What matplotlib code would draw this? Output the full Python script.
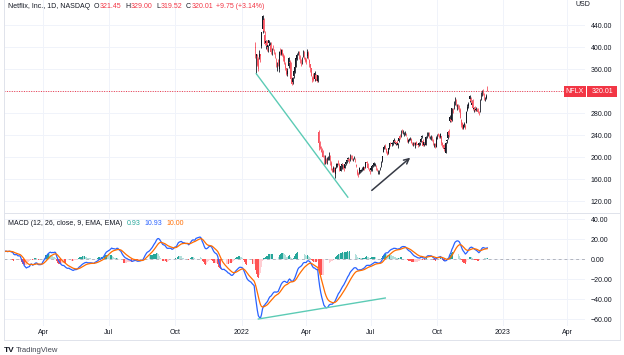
import numpy as np
import pandas as pd
import matplotlib
matplotlib.use('Agg')
import matplotlib.pyplot as plt
from matplotlib.lines import Line2D
from matplotlib.patches import Rectangle

plt.rcParams['font.family'] = ['Liberation Sans', 'DejaVu Sans']

# NYSE holidays, used to build the trading-day axis
holidays = ['2020-12-25', '2021-01-01', '2021-01-18', '2021-02-15', '2021-04-02',
            '2021-05-31', '2021-07-05', '2021-09-06', '2021-11-25', '2021-12-24',
            '2022-01-17', '2022-02-21', '2022-04-15', '2022-05-30', '2022-06-20',
            '2022-07-04', '2022-09-05', '2022-11-24', '2022-12-26',
            '2023-01-02', '2023-01-16', '2023-02-20', '2023-04-07', '2023-05-29']

# daily closes Dec 2020 .. Jan 20 2022 (off the top of the price pane, feed the MACD)
close_2020_12 = [504, 509, 505, 498, 494, 511, 507, 503, 501, 516, 519, 519, 524, 534, 529,
                 527, 511, 516, 519, 531, 525, 541]
close_2021_01 = [523, 521, 500, 509, 510, 499, 494, 507, 500, 497, 501, 586, 579, 565, 556,
                 561, 536, 538, 532]
close_2021_02 = [539, 548, 541, 550, 543, 547, 557, 550, 548, 557, 557, 551, 552, 549, 533,
                 546, 553, 550, 538]
close_2021_03 = [551, 547, 520, 511, 516, 493, 507, 504, 522, 518, 520, 541, 524, 504, 523,
                 527, 527, 520, 502, 509, 513, 513, 521]
close_2021_04 = [539, 540, 543, 546, 554, 554, 552, 553, 540, 550, 546, 554, 549, 508, 508,
                 505, 510, 505, 506, 509, 513]
close_2021_05 = [500, 496, 496, 498, 503, 487, 491, 484, 484, 494, 489, 486, 493, 496, 500,
                 497, 502, 502, 500, 502]
close_2021_06 = [499, 497, 489, 494, 492, 493, 489, 487, 488, 501, 498, 499, 503, 508, 497,
                 508, 512, 509, 527, 533, 534, 528]
close_2021_07 = [533, 533, 542, 546, 531, 537, 535, 537, 552, 543, 530, 532, 531, 513, 515,
                 515, 516, 518, 519, 514, 517]
close_2021_08 = [516, 510, 510, 521, 520, 519, 512, 510, 515, 516, 518, 521, 519, 544, 548,
                 551, 553, 548, 550, 558, 566, 570]
close_2021_09 = [582, 588, 591, 607, 606, 598, 589, 577, 577, 573, 586, 589, 576, 575, 585,
                 592, 592, 592, 583, 599, 610]
close_2021_10 = [613, 603, 634, 639, 632, 632, 633, 621, 629, 633, 628, 637, 639, 625, 653,
                 664, 671, 668, 662, 663, 690]
close_2021_11 = [681, 684, 688, 691, 679, 651, 658, 645, 650, 667, 679, 688, 692, 683, 679,
                 659, 654, 659, 665, 663, 642]
close_2021_12 = [602, 605, 607, 612, 625, 628, 611, 611, 604, 597, 602, 591, 586, 593, 604,
                 610, 613, 610, 611, 612, 610, 602]
close_2022_01 = [597, 591, 567, 553, 541, 539, 540, 540, 537, 533, 519, 515, 508]

# daily candles (open, high, low, close) from Jan 21 2022
ohlc_2022_01 = [(400.4, 409.2, 380.0, 397.5), (383.9, 387.3, 351.5, 387.2), (379.1, 387.7, 365.1, 366.4),
                (378.3, 382.7, 356.6, 359.7), (382.1, 394.8, 378.1, 386.7), (386.8, 387.0, 372.1, 384.4),
                (402.0, 427.7, 398.2, 427.1)]
ohlc_2022_02 = [(433.0, 458.5, 425.5, 457.1), (448.3, 452.0, 426.5, 429.5), (421.4, 429.3, 404.3, 405.6),
                (407.3, 412.8, 396.6, 410.2), (410.2, 412.4, 393.6, 402.1), (399.7, 404.5, 391.3, 403.5),
                (408.0, 413.5, 404.4, 412.9), (402.1, 408.6, 396.9, 406.3), (403.0, 409.6, 387.7, 391.3),
                (389.7, 397.9, 385.4, 396.6), (403.2, 403.6, 395.0, 398.1), (393.0, 396.8, 387.3, 391.3),
                (387.0, 390.6, 379.3, 380.0), (378.9, 380.7, 362.8, 367.5), (367.0, 372.7, 356.3, 370.2),
                (373.0, 378.0, 365.0, 367.0), (360.0, 393.0, 354.9, 391.0), (391.0, 397.5, 385.0, 390.8),
                (388.0, 396.0, 385.0, 394.5)]
ohlc_2022_03 = [(394.0, 397.0, 384.0, 386.2), (386.0, 389.5, 375.0, 380.0), (382.0, 385.0, 369.0, 372.1),
                (369.0, 372.5, 359.0, 361.7), (361.0, 362.5, 349.0, 350.3), (351.0, 362.0, 347.5, 356.3),
                (365.0, 381.0, 362.0, 380.0), (373.0, 375.5, 364.0, 370.1), (372.0, 373.0, 340.5, 341.8),
                (342.0, 345.0, 331.0, 333.0), (336.0, 345.0, 332.0, 343.8), (347.0, 357.0, 343.0, 356.8),
                (355.0, 366.0, 353.0, 363.7), (364.0, 381.0, 363.0, 380.6), (379.0, 390.0, 376.0, 386.2),
                (388.0, 393.5, 385.0, 390.7), (385.0, 392.0, 379.0, 380.9), (382.0, 385.0, 371.0, 374.2),
                (375.0, 378.0, 365.0, 373.9), (376.0, 381.0, 370.0, 379.8), (385.0, 394.0, 382.0, 391.8),
                (389.0, 392.0, 379.0, 381.5), (380.0, 382.5, 373.0, 374.6)]
ohlc_2022_04 = [(376.8, 380.9, 368.5, 373.5), (382.8, 396.5, 380.5, 391.8), (389.0, 392.0, 378.0, 380.2),
                (377.0, 379.0, 364.0, 370.7), (369.0, 370.0, 355.0, 362.2), (361.0, 362.5, 347.0, 348.0),
                (344.0, 347.5, 336.0, 340.9), (346.0, 353.0, 338.0, 340.5), (341.0, 356.0, 339.0, 353.0),
                (350.0, 351.0, 340.0, 341.1), (341.0, 346.0, 336.0, 338.6), (338.0, 350.0, 336.0, 348.6),
                (245.0, 250.0, 212.5, 226.2), (225.0, 230.0, 215.0, 218.2), (218.0, 220.0, 210.0, 215.5),
                (213.0, 215.5, 204.0, 209.9), (209.0, 212.0, 200.0, 200.7), (203.0, 204.0, 186.0, 188.5),
                (192.0, 203.0, 188.0, 199.5), (196.0, 199.0, 189.0, 190.4)]
ohlc_2022_05 = [(191.0, 200.0, 187.0, 199.5), (198.0, 202.0, 194.0, 198.4), (198.0, 209.0, 195.0, 208.7),
                (203.0, 204.0, 186.0, 192.3), (190.0, 192.0, 177.0, 181.3), (178.0, 180.0, 172.0, 173.1),
                (178.0, 183.0, 172.0, 180.2), (177.0, 182.0, 173.0, 174.3), (170.0, 181.0, 162.7, 180.0),
                (182.0, 190.0, 180.0, 187.6), (186.0, 190.0, 181.0, 186.4), (191.0, 194.0, 186.0, 190.6),
                (186.0, 189.0, 175.0, 177.2), (175.0, 187.0, 175.0, 183.5), (186.0, 190.0, 178.0, 186.4),
                (187.0, 188.0, 179.0, 185.5), (183.0, 184.0, 174.5, 180.3), (180.0, 188.0, 179.5, 187.8),
                (187.0, 194.0, 186.0, 191.4), (193.0, 197.0, 190.0, 195.2), (196.0, 199.5, 193.0, 197.4)]
ohlc_2022_06 = [(197.0, 199.0, 189.0, 192.9), (194.0, 205.5, 192.0, 205.1), (201.0, 203.0, 197.0, 199.0),
                (201.0, 203.0, 195.0, 197.1), (195.0, 199.0, 193.0, 198.4), (198.0, 202.0, 196.0, 199.5),
                (197.0, 199.0, 190.5, 190.8), (186.0, 187.0, 182.0, 182.9), (175.0, 178.0, 168.0, 169.7),
                (170.0, 173.0, 164.3, 167.5), (171.0, 182.0, 169.0, 180.1), (175.0, 177.0, 171.0, 175.5),
                (175.0, 178.0, 172.0, 175.7), (178.0, 181.0, 175.0, 178.7), (177.0, 184.0, 176.0, 181.7),
                (182.0, 182.5, 176.0, 179.0), (181.0, 191.0, 180.0, 190.8), (191.0, 192.0, 184.0, 189.1),
                (188.0, 190.0, 179.0, 179.6), (179.0, 180.0, 174.0, 177.5), (175.0, 177.0, 170.0, 174.9)]
ohlc_2022_07 = [(176.0, 181.0, 174.0, 179.9), (177.0, 185.0, 175.0, 184.5), (184.0, 188.0, 181.0, 184.7),
                (185.0, 190.5, 183.0, 189.3), (185.0, 190.0, 184.0, 187.0), (184.0, 185.0, 177.0, 177.9),
                (178.0, 180.0, 174.5, 175.0), (171.0, 176.0, 169.7, 174.5), (172.0, 177.0, 170.0, 176.4),
                (178.0, 181.0, 176.0, 180.0), (182.0, 192.0, 181.0, 190.8), (192.0, 202.0, 191.0, 201.6),
                (210.0, 219.0, 209.0, 218.3), (220.0, 222.0, 214.0, 220.4), (220.0, 223.0, 215.0, 216.4),
                (214.0, 216.0, 207.0, 209.7), (208.0, 211.0, 204.0, 204.2), (207.0, 216.0, 206.0, 215.6),
                (216.0, 226.0, 214.0, 225.1), (225.0, 228.0, 220.0, 224.9)]
ohlc_2022_08 = [(223.0, 228.0, 220.0, 226.2), (224.0, 229.0, 222.0, 224.5), (227.0, 235.0, 226.0, 231.0),
                (230.0, 231.5, 224.0, 226.7), (224.0, 228.0, 222.0, 226.0), (228.0, 230.5, 222.0, 223.8),
                (222.0, 226.0, 217.0, 224.9), (229.0, 236.0, 228.0, 235.3), (238.0, 242.0, 232.0, 233.1),
                (238.0, 250.0, 237.0, 249.3), (248.0, 251.5, 244.0, 247.1), (245.0, 250.0, 241.0, 246.8),
                (243.0, 246.0, 238.0, 243.2), (242.0, 247.0, 240.0, 245.6), (243.0, 244.0, 238.0, 239.1),
                (235.0, 236.0, 227.0, 228.7), (228.0, 232.0, 226.0, 230.9), (231.0, 235.0, 229.0, 233.1),
                (234.0, 236.0, 231.0, 235.0), (233.0, 234.5, 225.0, 226.0), (224.0, 227.0, 221.5, 222.3),
                (223.0, 227.0, 220.0, 223.4), (225.0, 227.5, 222.5, 223.6)]
ohlc_2022_09 = [(222.0, 227.0, 217.0, 226.1), (228.0, 230.0, 222.0, 223.9), (223.0, 225.0, 219.0, 221.4),
                (222.0, 227.5, 220.0, 226.2), (225.0, 228.0, 222.0, 225.5), (228.0, 236.0, 227.0, 233.6),
                (236.0, 240.0, 234.0, 237.8), (229.0, 232.0, 219.5, 220.0), (222.0, 228.0, 220.0, 226.4),
                (225.0, 229.0, 222.0, 224.4), (222.0, 238.0, 221.0, 236.6), (236.0, 246.0, 235.0, 244.7),
                (242.0, 246.0, 238.5, 243.1), (243.0, 245.0, 234.0, 234.5), (234.0, 238.0, 232.0, 235.8),
                (234.0, 240.5, 231.0, 236.9), (236.0, 239.0, 228.5, 229.4), (231.0, 233.0, 221.0, 222.2),
                (223.0, 226.0, 218.5, 224.1), (223.0, 226.0, 216.0, 219.4), (219.0, 239.0, 218.5, 235.4)]
ohlc_2022_10 = [(238.0, 241.0, 233.0, 239.0), (242.0, 244.0, 238.0, 240.7), (237.0, 242.0, 234.0, 236.5),
                (236.0, 243.0, 234.0, 242.0), (238.0, 239.0, 222.0, 224.7), (226.0, 227.0, 219.0, 222.0),
                (221.0, 223.0, 211.7, 214.3), (215.0, 219.0, 212.0, 215.0), (208.0, 228.0, 207.0, 226.2),
                (230.0, 232.0, 226.0, 230.0), (234.0, 247.0, 232.0, 245.1), (247.0, 251.0, 237.0, 240.9),
                (265.0, 276.0, 264.0, 272.4), (270.0, 272.0, 263.0, 265.6), (267.0, 290.0, 266.0, 289.6),
                (288.0, 290.0, 280.0, 285.0), (288.0, 302.0, 287.0, 299.8), (296.0, 309.0, 294.0, 304.9),
                (302.0, 305.0, 293.0, 295.2), (294.0, 296.0, 285.0, 295.7), (294.0, 296.0, 288.0, 291.9)]
ohlc_2022_11 = [(292.0, 295.0, 281.0, 286.7), (286.0, 290.0, 271.0, 271.8), (268.0, 270.0, 255.3, 258.5),
                (262.0, 263.0, 250.3, 251.0), (252.0, 260.0, 251.0, 258.0), (259.0, 264.0, 254.0, 260.5),
                (257.0, 260.0, 251.5, 253.0), (262.0, 283.0, 261.0, 281.8), (285.0, 296.0, 283.0, 291.2),
                (292.0, 300.0, 290.0, 296.2), (305.0, 313.0, 300.0, 310.2), (306.0, 310.0, 299.0, 301.0),
                (295.0, 303.0, 293.0, 298.3), (302.0, 305.0, 286.0, 288.4), (287.0, 291.0, 282.0, 290.0),
                (290.0, 293.0, 284.0, 285.5), (286.0, 291.0, 283.0, 288.0), (288.0, 289.0, 285.0, 286.5),
                (286.0, 290.0, 280.0, 281.2), (282.0, 283.0, 277.0, 280.0), (283.0, 305.5, 282.0, 305.5)]
ohlc_2022_12 = [(305.0, 318.0, 303.0, 316.9), (312.0, 321.0, 311.0, 320.4), (318.0, 323.5, 312.0, 316.8),
                (315.0, 317.0, 303.0, 305.5), (305.0, 309.0, 302.0, 307.3), (308.0, 314.0, 305.0, 310.3),
                (321.45, 329.0, 319.52, 320.01)]

# drawings on the chart: (date, value)
trend_price = [('2022-01-24', 351.5), ('2022-05-31', 127.0)]
arrow_price = [('2022-06-30', 136.0), ('2022-08-29', 202.0)]
trend_macd = [('2022-01-26', -60.0), ('2022-07-22', -39.0)]

price_ticks = [120, 160, 200, 240, 280, 320, 360, 400, 440]
macd_ticks = [-60, -40, -20, 0, 20, 40]
header = [('Netflix, Inc., 1D, NASDAQ', 'k'), ('O', 'k'), ('321.45', 'r'), ('H', 'k'), ('329.00', 'r'),
          ('L', 'k'), ('319.52', 'r'), ('C', 'k'), ('320.01', 'r'), ('+9.75 (+3.14%)', 'r')]
macd_header = [('MACD (12, 26, close, 9, EMA, EMA)', 'k'), ('0.93', 'h'), ('10.93', 'm'), ('10.00', 's')]

# ---------------------------------------------------------------------------
hist_close = sum([close_2020_12, close_2021_01, close_2021_02, close_2021_03, close_2021_04,
                  close_2021_05, close_2021_06, close_2021_07, close_2021_08, close_2021_09,
                  close_2021_10, close_2021_11, close_2021_12, close_2022_01], [])
ohlc = np.array(sum([ohlc_2022_01, ohlc_2022_02, ohlc_2022_03, ohlc_2022_04, ohlc_2022_05,
                     ohlc_2022_06, ohlc_2022_07, ohlc_2022_08, ohlc_2022_09, ohlc_2022_10,
                     ohlc_2022_11, ohlc_2022_12], []))
o, h, l, c = ohlc.T
close = np.concatenate([hist_close, c])
n = len(close)
dates = pd.bdate_range('2020-12-01', '2023-05-31', freq='C', holidays=holidays)
idx = {d: i for i, d in enumerate(dates)}
def pos(d):
    return idx[pd.Timestamp(d)]

s = pd.Series(close)
macd = (s.ewm(span=12, adjust=False).mean() - s.ewm(span=26, adjust=False).mean()).values
signal = pd.Series(macd).ewm(span=9, adjust=False).mean().values
hist = macd - signal

UP, DOWN = '#131722', '#f7525f'
GRID = '#f0f3fa'
TXT = '#131722'
RED = '#f23645'
cols = {'k': TXT, 'r': RED, 'h': '#26a69a', 'm': '#2962ff', 's': '#ff6d00'}

W, H = 624, 355
fig = plt.figure(figsize=(W / 100, H / 100), dpi=100)
ax = fig.add_axes([4 / W, 1 - 212 / H, 581 / W, 212 / H])
axm = fig.add_axes([4 / W, 1 - 326 / H, 581 / W, 112 / H], sharex=ax)

x0, x1 = 45.5, 604
ax.set_xlim(x0, x1)
ax.set_ylim(100, 485.5)
axm.set_ylim(-67, 45)

# month ticks
tick_x, tick_lab = [], []
for i in range(1, len(dates)):
    d = dates[i]
    if d.month != dates[i - 1].month and d.month in (1, 4, 7, 10) and x0 < i < x1:
        tick_x.append(i)
        tick_lab.append(str(d.year) if d.month == 1 else d.strftime('%b'))

for a in (ax, axm):
    for sp in a.spines.values():
        sp.set_visible(False)
    a.yaxis.tick_right()
    a.tick_params(axis='y', length=0, pad=4, labelsize=5, colors=TXT)
    a.tick_params(axis='x', length=0, pad=2.5, labelsize=5, colors=TXT)
    for t in tick_x:
        a.axvline(t, color=GRID, lw=0.7, zorder=0)

for p in price_ticks:
    ax.axhline(p, color=GRID, lw=0.7, zorder=0)
for p in macd_ticks:
    axm.axhline(p, color=GRID, lw=0.7, zorder=0)

ax.set_yticks(price_ticks)
ax.set_yticklabels(['' if p == 320 else f'{p:.2f}' for p in price_ticks])
axm.set_yticks(macd_ticks)
axm.set_yticklabels([f'{p:.2f}'.replace('-', '\u2212') for p in macd_ticks])
axm.set_xticks(tick_x)
axm.set_xticklabels(tick_lab)
ax.tick_params(axis='x', labelbottom=False)

# candles
xc = np.arange(n - len(c), n)
ccol = np.where(c >= o, UP, DOWN)
ax.vlines(xc, l, h, colors=ccol, lw=0.6, zorder=3)
ax.bar(xc, np.maximum(np.abs(c - o), 0.8), bottom=np.minimum(o, c), width=0.7,
       color=ccol, lw=0, zorder=3)

last = c[-1]
ax.axhline(last, color=RED, lw=0.7, ls=(0, (1, 1.5)), zorder=2)

# drawings
(d0, v0), (d1, v1) = trend_price
ax.plot([pos(d0), pos(d1)], [v0, v1], color='#5ccbb5', lw=1.0, zorder=4)
(d0, v0), (d1, v1) = arrow_price
ax.annotate('', xy=(pos(d1), v1), xytext=(pos(d0), v0),
            arrowprops=dict(arrowstyle='->', color='#363a45', lw=1.1, mutation_scale=9), zorder=4)
(d0, v0), (d1, v1) = trend_macd
axm.plot([pos(d0), pos(d1)], [v0, v1], color='#5ccbb5', lw=1.0, zorder=4)

# MACD pane
xm = np.arange(n)
prev = np.concatenate([[0], hist[:-1]])
hcol = np.where(hist >= 0, np.where(hist > prev, '#26a69a', '#b2dfdb'),
                np.where(hist > prev, '#ffcdd2', '#ff5252'))
axm.bar(xm, hist, width=0.8, color=hcol, lw=0, zorder=2)
axm.axhline(0, color='#b2b5be', lw=0.7, ls=(0, (3, 3)), zorder=1)
axm.plot(xm, macd, color='#2962ff', lw=0.9, zorder=3)
axm.plot(xm, signal, color='#ff6d00', lw=0.9, zorder=3)

# price label boxes on the scale
ypix = ax.transData.transform((0, last))[1]
for bx0, bx1, txt in [(564, 586, 'NFLX'), (587, 617, f'{last:.2f}')]:
    fig.add_artist(Rectangle((bx0 / W, (ypix - 5.5) / H), (bx1 - bx0) / W, 11 / H,
                             transform=fig.transFigure, color=RED, lw=0, zorder=5))
    fig.text((bx0 + bx1) / 2 / W, ypix / H, txt, color='white', fontsize=5,
             ha='center', va='center', zorder=6)

fig.text(576 / W, 1 - 6.5 / H, 'USD', color=TXT, fontsize=5, va='baseline')

# frame
for xs, ys in [((4, 620), (212.5, 212.5)), ((4, 620), (340, 340)),
               ((4, 4), (0, 340)), ((620, 620), (0, 340))]:
    fig.add_artist(Line2D([v / W for v in xs], [1 - v / H for v in ys], color='#e0e3eb', lw=0.7))

# legend rows
renderer = fig.canvas.get_renderer()
def text_row(x, y, pieces, gaps):
    for (txt, ck), g in zip(pieces, gaps):
        t = fig.text(x / W, 1 - y / H, txt, color=cols[ck], fontsize=5, va='baseline')
        x += t.get_window_extent(renderer).width + g

text_row(8, 8, header, [4, 0.5, 3.5, 0.5, 3.5, 0.5, 3.5, 0.5, 3.5, 0])
text_row(8, 225, macd_header, [4, 4, 4, 0])

fig.text(4 / W, 1 - 352 / H, 'TV', color=TXT, fontsize=6, fontweight='bold', va='baseline')
fig.text(16 / W, 1 - 352 / H, 'TradingView', color='#434651', fontsize=5.5, va='baseline')

fig.savefig('out.png', dpi=100)
